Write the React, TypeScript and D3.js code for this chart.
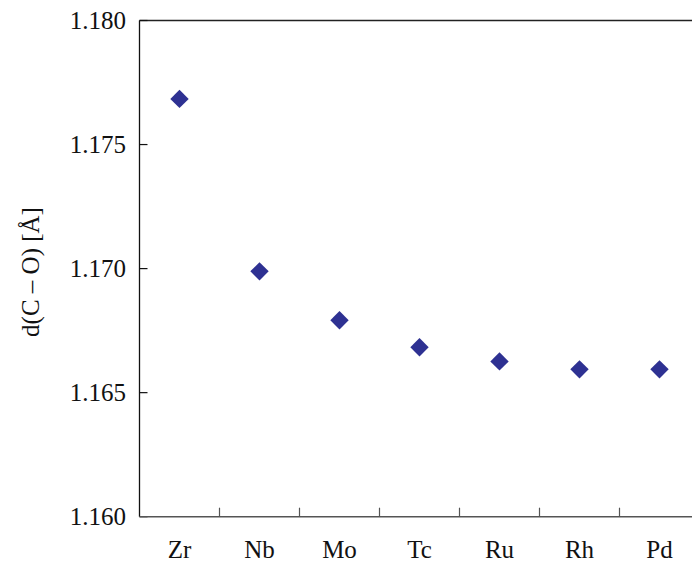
import React from "react";
import * as d3 from "d3";

const categories = ["Zr", "Nb", "Mo", "Tc", "Ru", "Rh", "Pd"];
const values = [1.17684, 1.16989, 1.16792, 1.16683, 1.16626, 1.16594, 1.16594];
const yTicks = [1.16, 1.165, 1.17, 1.175, 1.18];

const W = 692;
const H = 567;
const margin = { left: 139.5, top: 20.5, bottom: 516.7 };
const plotRight = 699.5;

export default function App() {
  const x = d3.scaleBand<string>().domain(categories).range([margin.left, plotRight]);
  const y = d3.scaleLinear().domain([1.16, 1.18]).range([margin.bottom, margin.top]);
  const diamond = d3.symbol().type(d3.symbolSquare).size(13 * 13)();
  const font = "Liberation Serif";
  const boundaries = categories.slice(1).map((c) => x(c)!);

  return (
    <svg width={W} height={H} style={{ position: "absolute", left: 0, top: 0, background: "#fff" }}>
      <line x1={margin.left} x2={plotRight} y1={margin.top} y2={margin.top} stroke="#222" strokeWidth={1.3} />
      <line x1={margin.left} x2={margin.left} y1={margin.top} y2={margin.bottom} stroke="#111" strokeWidth={1.3} />
      {yTicks.map((t) => (
        <g key={t}>
          <line x1={margin.left} x2={margin.left + 8} y1={y(t)} y2={y(t)} stroke="#111" strokeWidth={1.2} />
          <text x={126} y={y(t)} dy="0.35em" textAnchor="end" fontFamily={font} fontSize={25} fill="#111">
            {d3.format(".3f")(t)}
          </text>
        </g>
      ))}
      <line x1={margin.left} x2={plotRight} y1={margin.bottom} y2={margin.bottom} stroke="#555" strokeWidth={1.5} />
      {boundaries.map((b, i) => (
        <line key={i} x1={b} x2={b} y1={margin.bottom} y2={margin.bottom - 9} stroke="#555" strokeWidth={1.2} />
      ))}
      {categories.map((c) => (
        <text
          key={c}
          x={x(c)! + x.bandwidth() / 2}
          y={558}
          textAnchor="middle"
          fontFamily={font}
          fontSize={25}
          fill="#111"
        >
          {c}
        </text>
      ))}
      <text
        transform={`translate(39, 272) rotate(-90)`}
        textAnchor="middle"
        fontFamily={font}
        fontSize={25}
        fill="#111"
      >
        d(C – O) [Å]
      </text>
      {values.map((v, i) => (
        <path
          key={i}
          d={diamond!}
          transform={`translate(${x(categories[i])! + x.bandwidth() / 2}, ${y(v)}) rotate(45)`}
          fill="#2e3192"
        />
      ))}
    </svg>
  );
}
